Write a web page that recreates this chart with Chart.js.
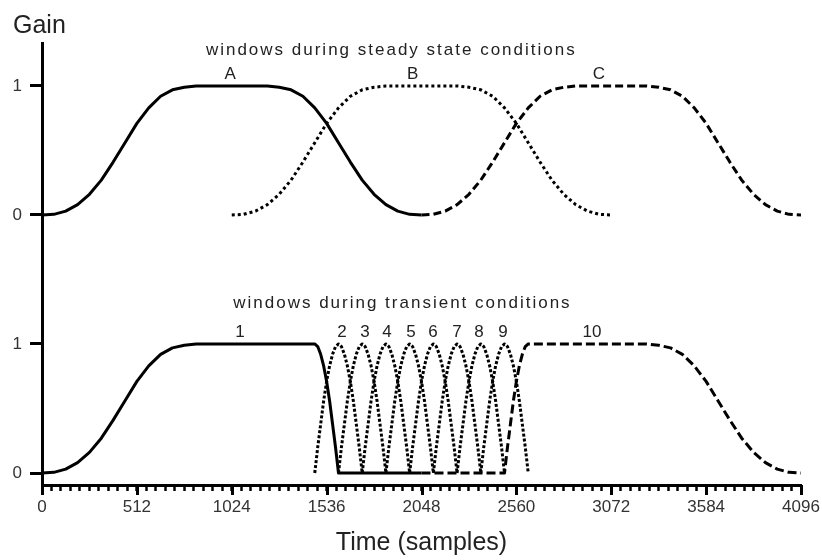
<!DOCTYPE html>
<html lang="en">
<head>
    <meta charset="UTF-8" />
    <title>Window switching</title>
    <script src="https://cdn.jsdelivr.net/npm/chart.js"></script>
    <style>
        body { margin: 0; background: #fff; }
        canvas { display: block; }
    </style>
</head>
<body>
    <canvas id="windowChart" width="822" height="560"></canvas>

    <script>
        // gain of one long window half, read every 64 samples (0 .. 1024)
        const longRise = [0, 0.005, 0.03, 0.08, 0.16, 0.27, 0.41, 0.56, 0.71, 0.83, 0.92, 0.97, 0.99, 1, 1, 1, 1];
        // gain of one short window half, read every 16 samples (0 .. 128)
        const shortRise = [0, 0.2, 0.38, 0.56, 0.71, 0.83, 0.92, 0.98, 1];

        // steady state: three overlapping long windows
        const steadyNames = ['A', 'B', 'C'];
        const steadyStarts = [0, 1024, 2048];
        const steadyLabelX = [1015, 2000, 3005];

        // transient: long start window, 8 short windows, long stop window
        const transientNames = ['1', '2', '3', '4', '5', '6', '7', '8', '9', '10'];
        const shortStarts = [1472, 1600, 1728, 1856, 1984, 2112, 2240, 2368];
        const transientLabelX = [1069, 1619, 1743, 1862, 1991, 2110, 2240, 2358, 2488, 2968];
        const startWindow = { flatEnd: 1472, zeroEnd: 2048 };
        const stopWindow = { zeroStart: 2048, riseStart: 2496, fallStart: 3072 };

        const xTickLabels = [0, 512, 1024, 1536, 2048, 2560, 3072, 3584, 4096];
        const yTickValues = [0, 1, 2, 3];
        const yTickLabels = ['0', '1', '0', '1'];

        const UPPER = 2; // the steady state panel sits two gain units above the transient one
        const FONT = '"Liberation Sans", Arial, sans-serif';

        function addRise(pts, x0, len, shape, base) {
            shape.forEach((g, i) => pts.push({ x: x0 + i * len / (shape.length - 1), y: g + base }));
        }
        function addFall(pts, x0, len, shape, base) {
            shape.slice().reverse().forEach((g, i) => pts.push({ x: x0 + i * len / (shape.length - 1), y: g + base }));
        }

        function lineSet(data, dash, width) {
            return {
                data,
                borderColor: '#000',
                borderWidth: width,
                borderDash: dash,
                borderJoinStyle: 'round',
                pointRadius: 0,
                tension: 0,
                fill: false
            };
        }

        const datasets = [];

        // steady state windows
        const steadyDash = [[], [3, 3], [8, 4]];
        steadyStarts.forEach((s, i) => {
            const pts = [];
            addRise(pts, s, 1024, longRise, UPPER);
            addFall(pts, s + 1024, 1024, longRise, UPPER);
            datasets.push(lineSet(pts, steadyDash[i], 3));
        });

        // long start window
        const w1 = [];
        addRise(w1, 0, 1024, longRise, 0);
        w1.push({ x: startWindow.flatEnd, y: 1 });
        addFall(w1, startWindow.flatEnd, 128, shortRise, 0);
        w1.push({ x: startWindow.zeroEnd, y: 0 });
        datasets.push(lineSet(w1, [], 3));

        // short windows
        shortStarts.forEach(s => {
            const pts = [];
            addRise(pts, s, 128, shortRise, 0);
            addFall(pts, s + 128, 128, shortRise, 0);
            datasets.push(lineSet(pts, [3, 2], 3));
        });

        // long stop window
        const w10 = [{ x: stopWindow.zeroStart, y: 0 }];
        addRise(w10, stopWindow.riseStart, 128, shortRise, 0);
        addFall(w10, stopWindow.fallStart, 1024, longRise, 0);
        datasets.push(lineSet(w10, [9, 4], 3));

        // longer ticks at the labelled positions
        const majorTicks = {
            id: 'majorTicks',
            afterDraw(chart) {
                const { ctx } = chart;
                const x = chart.scales.x;
                ctx.save();
                ctx.strokeStyle = '#000';
                ctx.lineWidth = 3;
                xTickLabels.forEach(v => {
                    const px = Math.round(x.getPixelForValue(v)) + 0.5;
                    ctx.beginPath();
                    ctx.moveTo(px, x.top);
                    ctx.lineTo(px, x.top + 10);
                    ctx.stroke();
                });
                ctx.restore();
            }
        };

        const annotate = {
            id: 'annotate',
            afterDraw(chart) {
                const { ctx } = chart;
                const { x, y } = chart.scales;
                ctx.save();
                ctx.fillStyle = '#222';
                ctx.textBaseline = 'alphabetic';

                ctx.textAlign = 'left';
                ctx.font = '25px ' + FONT;
                ctx.fillText('Gain', 13, 33);

                ctx.textAlign = 'center';
                ctx.font = '17px ' + FONT;
                ctx.letterSpacing = '2px';
                ctx.fillText('windows during steady state conditions', x.getPixelForValue(1885), y.getPixelForValue(3.24));
                ctx.fillText('windows during transient conditions', x.getPixelForValue(1945), y.getPixelForValue(1.279));
                ctx.letterSpacing = '0px';

                steadyNames.forEach((t, i) => ctx.fillText(t, x.getPixelForValue(steadyLabelX[i]), y.getPixelForValue(3.054)));
                transientNames.forEach((t, i) => ctx.fillText(t, x.getPixelForValue(transientLabelX[i]), y.getPixelForValue(1.054)));
                ctx.restore();
            }
        };

        new Chart(document.getElementById('windowChart'), {
            type: 'line',
            data: { datasets },
            plugins: [majorTicks, annotate],
            options: {
                responsive: false,
                animation: false,
                layout: { padding: { top: 43, right: 21, left: 0, bottom: 0 } },
                plugins: { legend: { display: false }, tooltip: { enabled: false } },
                scales: {
                    x: {
                        type: 'linear',
                        min: 0,
                        max: 4096,
                        afterFit: s => {
                            s.height = 75;
                            s.paddingLeft = 0;
                            s.paddingRight = 0;
                        },
                        border: { color: '#000', width: 3 },
                        grid: { drawOnChartArea: false, tickLength: 6, tickWidth: 2.5, tickColor: '#000' },
                        ticks: {
                            stepSize: 51.2,
                            autoSkip: false,
                            maxRotation: 0,
                            minRotation: 0,
                            padding: 6,
                            color: '#333',
                            font: { family: FONT, size: 17 },
                            callback: v => xTickLabels.includes(v) ? String(v) : ''
                        },
                        title: {
                            display: true,
                            text: 'Time (samples)',
                            color: '#222',
                            font: { family: FONT, size: 25 },
                            padding: { top: 0, bottom: 2 }
                        }
                    },
                    y: {
                        min: -0.093,
                        max: 3.333,
                        afterFit: s => { s.width = 42; },
                        afterBuildTicks: s => { s.ticks = yTickValues.map(v => ({ value: v })); },
                        border: { color: '#000', width: 3 },
                        grid: { drawOnChartArea: false, tickLength: 12, tickWidth: 3, tickColor: '#000' },
                        ticks: {
                            padding: 8,
                            color: '#333',
                            font: { family: FONT, size: 17 },
                            callback: (v, i) => yTickLabels[i]
                        }
                    }
                }
            }
        });
    </script>
</body>
</html>
